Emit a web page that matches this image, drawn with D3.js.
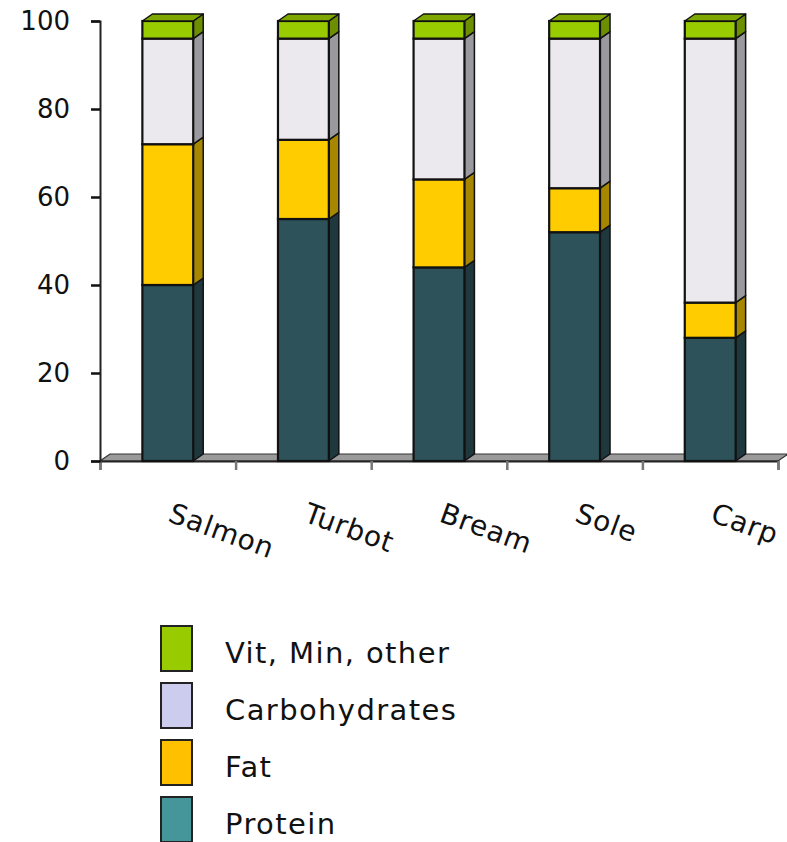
<!DOCTYPE html>
<html>
<head>
<meta charset="utf-8">
<script src="https://cdn.jsdelivr.net/npm/d3@7"></script>
<style>
  html, body { margin: 0; padding: 0; background: #fff; }
  svg { display: block; }
  text { font-family: "DejaVu Sans", sans-serif; fill: #111; }
</style>
</head>
<body>
<svg id="chart" width="787" height="842"></svg>
<script>
// Composition of fish fillets (%)
const fish = ["Salmon", "Turbot", "Bream", "Sole", "Carp"];
const protein = [40, 55, 44, 52, 28];
const fat = [32, 18, 20, 10, 8];
const carbohydrates = [24, 23, 32, 34, 60];
const vitMinOther = [4, 4, 4, 4, 4];
const yTicks = [0, 20, 40, 60, 80, 100];

const seriesKeys = ["Protein", "Fat", "Carbohydrates", "Vit, Min, other"];
const seriesValues = [protein, fat, carbohydrates, vitMinOther];

// Face colours for the extruded bars and the legend swatches
const frontColor = { "Protein": "#2d5259", "Fat": "#ffcc00", "Carbohydrates": "#ebe9ee", "Vit, Min, other": "#99cc00" };
const sideColor  = { "Protein": "#1e383d", "Fat": "#a88700", "Carbohydrates": "#9a999e", "Vit, Min, other": "#6b8f00" };
const topColor   = { "Protein": "#244349", "Fat": "#d9ad00", "Carbohydrates": "#c8c6cb", "Vit, Min, other": "#7ea800" };
const legendColor = { "Protein": "#45969b", "Fat": "#ffc000", "Carbohydrates": "#ccccee", "Vit, Min, other": "#99cc00" };

const rows = fish.map((f, i) => {
  const r = { fish: f };
  seriesKeys.forEach((k, j) => { r[k] = seriesValues[j][i]; });
  return r;
});
const stacked = d3.stack().keys(seriesKeys)(rows);

const svg = d3.select("#chart");
const plotLeft = 100, plotRight = 778, plotTop = 21, plotBottom = 461;
const depthX = 10, depthY = -7;

const x = d3.scaleBand().domain(fish).range([plotLeft, plotRight]).paddingInner(0).paddingOuter(0);
const y = d3.scaleLinear().domain([0, 100]).range([plotBottom, plotTop]);
const barW = x.bandwidth() * 0.375;
const barX = f => x(f) + (x.bandwidth() - barW) / 2;

// Floor slab
svg.append("polygon")
  .attr("points", [[plotLeft, plotBottom], [plotRight, plotBottom], [plotRight + depthX, plotBottom + depthY], [plotLeft + depthX, plotBottom + depthY]].join(" "))
  .attr("fill", "#9a9a9a")
  .attr("stroke", "#333")
  .attr("stroke-width", 1.2);

// Category axis (tick marks between bands)
const xAxis = svg.append("g").attr("transform", `translate(0,${plotBottom})`)
  .call(d3.axisBottom(d3.scaleLinear().domain([0, fish.length]).range([plotLeft, plotRight]))
    .ticks(fish.length).tickSize(9).tickFormat(""));
xAxis.select(".domain").attr("stroke", "#222").attr("stroke-width", 2);
xAxis.selectAll(".tick line").attr("stroke", "#777").attr("stroke-width", 2.5);

// Value axis
const yAxis = svg.append("g").attr("transform", `translate(${plotLeft},0)`)
  .call(d3.axisLeft(y).tickValues(yTicks).tickSize(9).tickPadding(21));
yAxis.select(".domain").attr("stroke", "#222").attr("stroke-width", 2);
yAxis.selectAll(".tick line").attr("stroke", "#111").attr("stroke-width", 2.5);
yAxis.selectAll(".tick text")
  .attr("font-size", 26)
  .attr("font-family", "'DejaVu Sans', sans-serif")
  .attr("fill", "#111");

// Stacked 3D bars
const bars = svg.append("g");
stacked.forEach((layer, li) => {
  const key = layer.key;
  layer.forEach((d, i) => {
    const f = fish[i];
    const x0 = barX(f), x1 = x0 + barW;
    const yTop = y(d[1]), yBot = y(d[0]);
    const g = bars.append("g");
    // side face
    g.append("polygon")
      .attr("points", [[x1, yBot], [x1 + depthX, yBot + depthY], [x1 + depthX, yTop + depthY], [x1, yTop]].join(" "))
      .attr("fill", sideColor[key])
      .attr("stroke", "#111").attr("stroke-width", 1.5).attr("stroke-linejoin", "round");
    // front face
    g.append("rect")
      .attr("x", x0).attr("y", yTop)
      .attr("width", barW).attr("height", yBot - yTop)
      .attr("fill", frontColor[key])
      .attr("stroke", "#111").attr("stroke-width", 2.2);
    // top face on the last segment
    if (li === stacked.length - 1) {
      g.append("polygon")
        .attr("points", [[x0, yTop], [x0 + depthX, yTop + depthY], [x1 + depthX, yTop + depthY], [x1, yTop]].join(" "))
        .attr("fill", topColor[key])
        .attr("stroke", "#111").attr("stroke-width", 1.5).attr("stroke-linejoin", "round");
    }
  });
});

// Rotated category labels
svg.append("g").selectAll("text")
  .data(fish).join("text")
  .attr("transform", f => `translate(${x(f) + x.bandwidth() / 2 - 1},521) rotate(20)`)
  .attr("font-size", 28)
  .attr("letter-spacing", 0.8)
  .text(f => f);

// Legend
const legendKeys = ["Vit, Min, other", "Carbohydrates", "Fat", "Protein"];
const legend = svg.append("g").attr("transform", "translate(161,626)");
legendKeys.forEach((k, i) => {
  const row = legend.append("g").attr("transform", `translate(0,${i * 57})`);
  row.append("rect")
    .attr("x", 0).attr("y", 0).attr("width", 31).attr("height", 45)
    .attr("fill", legendColor[k]).attr("stroke", "#222").attr("stroke-width", 2);
  row.append("text")
    .attr("x", 64).attr("y", 37)
    .attr("font-size", 29)
    .attr("letter-spacing", 1.4)
    .text(k);
});
</script>
</body>
</html>
